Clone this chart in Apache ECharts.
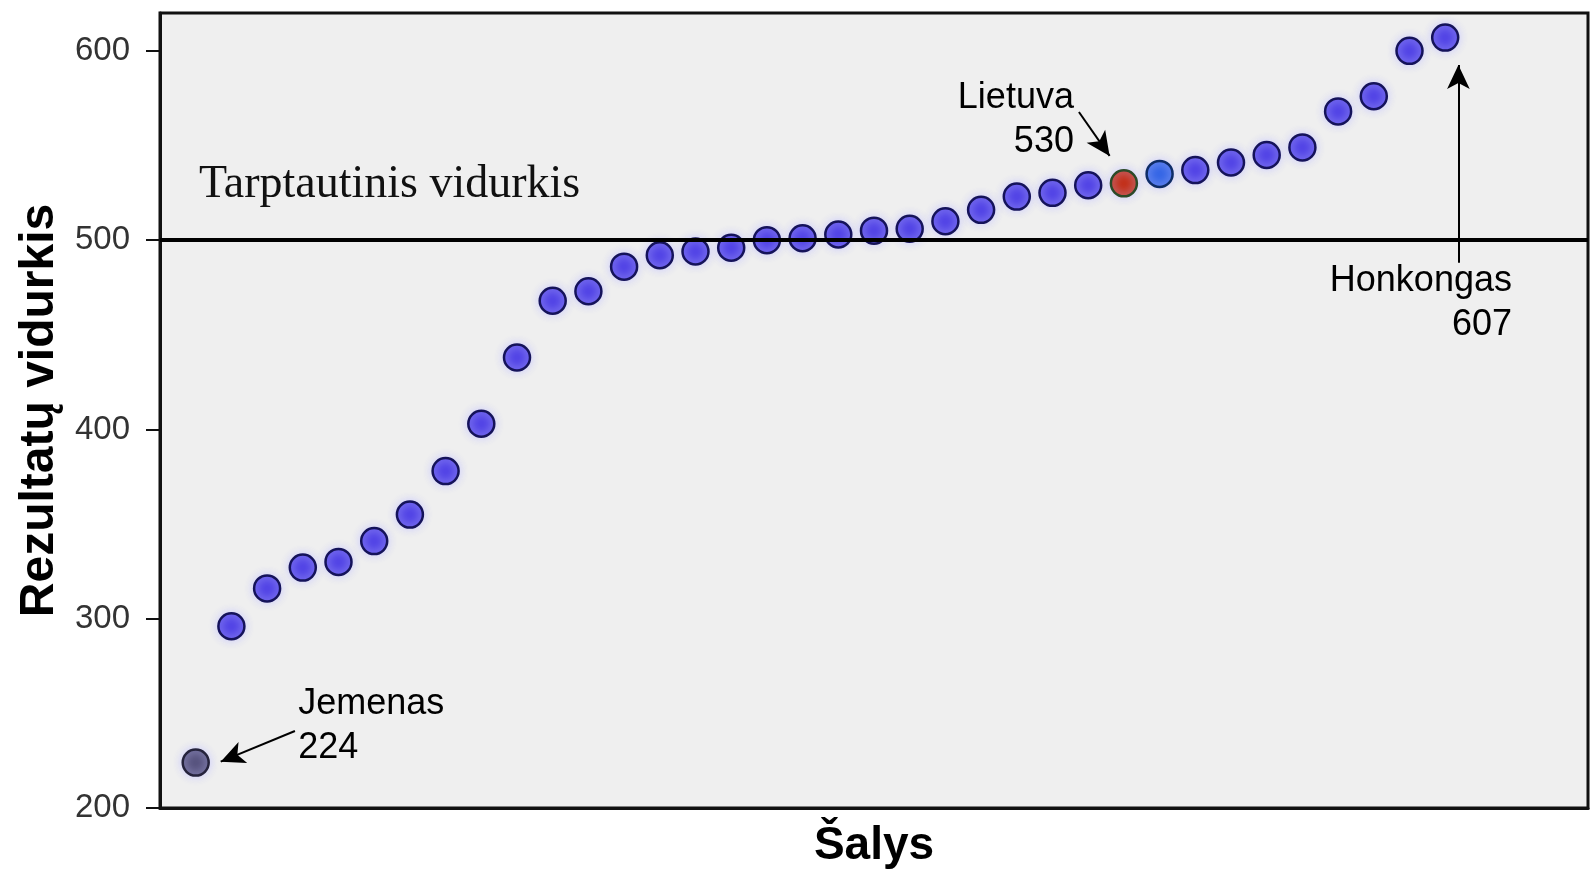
<!DOCTYPE html>
<html>
<head>
<meta charset="utf-8">
<script src="https://cdn.jsdelivr.net/npm/echarts@6/dist/echarts.min.js"></script>
<style>
html,body{margin:0;padding:0;background:#fff;}
#c{width:1593px;height:871px;}
</style>
</head>
<body>
<div id="c"></div>
<script>
// ---- data ----
const scores = [224, 296, 316, 327, 330, 341, 355, 378, 403, 438, 468, 473, 486, 492, 494, 496, 500, 501, 503, 505, 506, 510, 516, 523, 525, 529, 530, 535, 537, 541, 545, 549, 568, 576, 600, 607];
const yTickValues = [200, 300, 400, 500, 600];
const intlAverage = 500;
const intlAverageLabel = 'Tarptautinis vidurkis';
const namedCountries = ['Jemenas', 'Lietuva', 'Honkongas'];
const namedRanks = [1, 27, 36];
const yAxisTitle = 'Rezultatų vidurkis';
const xAxisTitle = 'Šalys';

// ---- layout / style (not data) ----
const pointStyle = { color: '#5244e6', borderColor: '#15135a' };
const specialStyles = {
  1: { color: '#57537e', borderColor: '#25233c' },
  27: { color: '#c3301a', borderColor: '#2c4a28' },
  28: { color: '#3566e6', borderColor: '#0e2c66' }
};
const labelLayout = {
  Jemenas: { at: [3.87, 243.4], align: 'left', arrow: [[3.78, 240.7], [1.7, 224.5]] },
  Lietuva: { at: [25.6, 563.2], align: 'right', arrow: [[25.74, 567.7], [26.6, 544.5]] },
  Honkongas: { at: [37.87, 466.5], align: 'right', arrow: [[36.37, 488], [36.37, 592.5]] }
};
const avgLabelAt = [1.09, 529.4];

const points = scores.map((v, i) => {
  const rank = i + 1;
  const st = specialStyles[rank] || pointStyle;
  return { value: [rank, v], itemStyle: { color: st.color, borderColor: st.borderColor } };
});

const markPoints = namedCountries.map((n, k) => {
  const L = labelLayout[n];
  return {
    coord: L.at,
    symbolSize: 0,
    label: {
      show: true,
      formatter: n + '\n' + scores[namedRanks[k] - 1],
      align: L.align,
      verticalAlign: 'middle',
      fontFamily: 'Liberation Sans, Arial, sans-serif',
      fontSize: 36,
      lineHeight: 44,
      color: '#000'
    }
  };
});
markPoints.push({
  coord: avgLabelAt,
  symbolSize: 0,
  label: {
    show: true,
    formatter: intlAverageLabel,
    align: 'left',
    verticalAlign: 'middle',
    fontFamily: 'Liberation Serif, Times New Roman, serif',
    fontSize: 46,
    color: '#111'
  }
});

const arrowLines = namedCountries.map(n => {
  const a = labelLayout[n].arrow;
  return [
    { coord: a[0], symbol: 'none' },
    { coord: a[1], symbol: 'arrow', symbolSize: [17, 24] }
  ];
});

const chart = echarts.init(document.getElementById('c'), null, { renderer: 'canvas' });
chart.setOption({
  backgroundColor: '#ffffff',
  animation: false,
  grid: {
    left: 160, right: 5, top: 13, bottom: 63,
    outerBoundsMode: 'none', containLabel: false,
    show: true, backgroundColor: '#efefef', borderColor: '#111', borderWidth: 3
  },
  xAxis: {
    type: 'value', min: 0, max: 40,
    name: xAxisTitle, nameLocation: 'middle', nameGap: 38,
    nameTextStyle: { fontFamily: 'Liberation Sans, Arial, sans-serif', fontWeight: 'bold', fontSize: 46, color: '#000', verticalAlign: 'middle' },
    axisLine: { show: true, lineStyle: { color: '#111', width: 3 } },
    axisTick: { show: false },
    axisLabel: { show: false },
    splitLine: { show: false }
  },
  yAxis: {
    type: 'value', min: 200, max: 620,
    name: yAxisTitle, nameLocation: 'middle', nameGap: 119, nameRotate: 90,
    nameTextStyle: { fontFamily: 'Liberation Sans, Arial, sans-serif', fontWeight: 'bold', fontSize: 48, color: '#000', verticalAlign: 'middle' },
    axisLine: { show: true, lineStyle: { color: '#111', width: 3 } },
    axisTick: { show: true, length: 14, customValues: yTickValues, lineStyle: { color: '#111', width: 2 } },
    axisLabel: { customValues: yTickValues, margin: 30, fontFamily: 'Liberation Sans, Arial, sans-serif', fontSize: 33, color: '#333' },
    splitLine: { show: false }
  },
  series: [
    {
      type: 'line', data: [], z: 1,
      markLine: {
        silent: true, symbol: 'none', label: { show: false },
        lineStyle: { color: '#000', width: 4, type: 'solid' },
        data: [{ yAxis: intlAverage }]
      }
    },
    {
      type: 'scatter', z: 3,
      symbol: 'circle', symbolSize: 26,
      itemStyle: { opacity: 1, borderWidth: 2.5, shadowColor: 'rgba(200,200,255,0.9)', shadowBlur: 8 },
      data: points
    },
    {
      type: 'line', data: [], z: 4,
      markLine: {
        silent: true, label: { show: false },
        lineStyle: { color: '#000', width: 2, type: 'solid' },
        data: arrowLines
      },
      markPoint: { silent: true, symbol: 'circle', data: markPoints }
    }
  ]
});
</script>
</body>
</html>
